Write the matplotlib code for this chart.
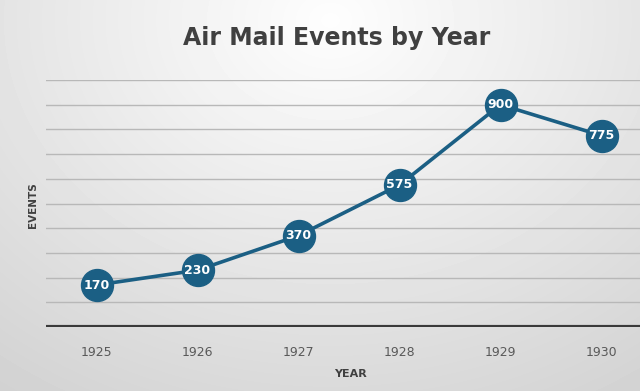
import numpy as np
import matplotlib
matplotlib.use('Agg')
import matplotlib.pyplot as plt

years = ['1925', '1926', '1927', '1928', '1929', '1930']
events = [170, 230, 370, 575, 900, 775]
grid_vals = [100, 200, 300, 400, 500, 600, 700, 800, 900, 1000]

line_col = '#1b5f84'
text_col = '#404040'

fig = plt.figure(figsize=(6.4, 3.91), dpi=100)

# soft radial gray background
bg = fig.add_axes([0, 0, 1, 1], zorder=-10)
yy, xx = np.mgrid[0:391, 0:640]
r = np.sqrt(((xx - 330) / 520.0) ** 2 + ((yy - 20) / 420.0) ** 2)
shade = np.clip(0.995 - 0.16 * r, 0.80, 1.0)
bg.imshow(shade, cmap='gray', vmin=0, vmax=1, aspect='auto', extent=[0, 1, 0, 1])
bg.axis('off')

ax = fig.add_axes([46 / 640, 64 / 391, 606 / 640, 247 / 391])
ax.patch.set_alpha(0)
x = np.arange(len(years))

for g in grid_vals:
    ax.axhline(g, color='#b8b8b8', lw=1.0, zorder=1)
ax.axhline(0, color='#3a3a3a', lw=3, zorder=2)

ax.plot(x, events, color=line_col, lw=2.6, marker='o', ms=23,
        mfc=line_col, mec=line_col, zorder=3)
for xi, v in zip(x, events):
    ax.text(xi, v, str(v), color='white', fontsize=9, fontweight='bold',
            ha='center', va='center', zorder=4)

ax.set_xlim(-0.5, len(years) - 0.5)
ax.set_ylim(0, 1000)
ax.set_xticks(x)
ax.set_xticklabels(years, color='#595959', fontsize=9)
ax.set_yticks([])
ax.tick_params(axis='x', length=0, pad=14)
for s in ax.spines.values():
    s.set_visible(False)

fig.text(337 / 640, 1 - 38 / 391, 'Air Mail Events by Year', ha='center', va='center',
         fontsize=17, fontweight='bold', color=text_col)
fig.text(350 / 640, 1 - 374 / 391, 'YEAR', ha='center', va='center',
         fontsize=8, fontweight='bold', color=text_col)
fig.text(33 / 640, 1 - 205 / 391, 'EVENTS', ha='center', va='center', rotation=90,
         fontsize=7.5, fontweight='bold', color=text_col)

fig.savefig('out.png', dpi=100)
